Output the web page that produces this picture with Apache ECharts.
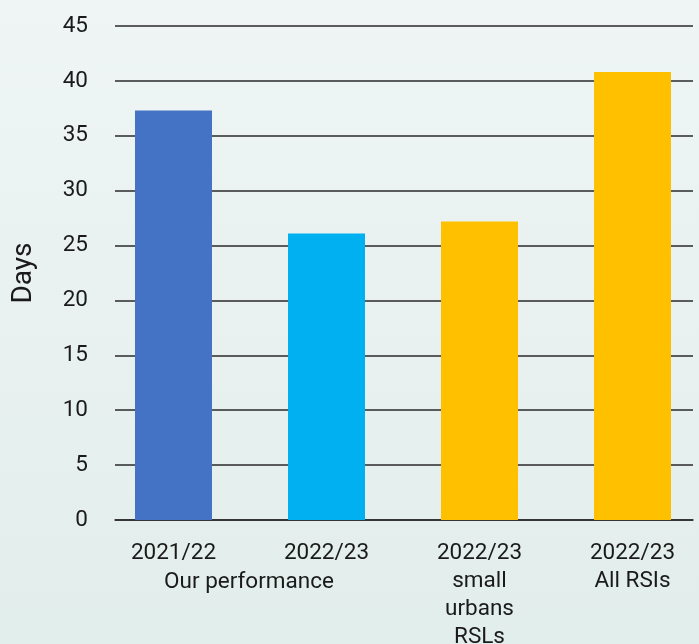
<!DOCTYPE html>
<html>
<head>
<meta charset="utf-8">
<script src="https://cdn.jsdelivr.net/npm/echarts@6/dist/echarts.min.js"></script>
<style>
html,body{margin:0;padding:0;}
#c{width:699px;height:644px;}
</style>
</head>
<body>
<div id="c"></div>
<script>
const categories = ["2021/22", "2022/23", "2022/23\nsmall\nurbans\nRSLs", "2022/23\nAll RSIs"];
const values = [37.3, 26.1, 27.2, 40.8];
const barColors = ["#4472C4", "#00B0F0", "#FFC000", "#FFC000"];
const groupLabel = "Our performance";
const yName = "Days";

const chart = echarts.init(document.getElementById('c'));
const font = 'Roboto, "Noto Sans", sans-serif';
chart.setOption({
  animation: false,
  backgroundColor: {
    type: 'linear', x: 0, y: 0, x2: 0, y2: 1,
    colorStops: [{offset: 0, color: '#eff5f5'}, {offset: 1, color: '#e2eeeb'}]
  },
  grid: [
    {left: 115, width: 578, top: 26, height: 494, outerBoundsMode: 'none', containLabel: false},
    {left: 97, width: 612, top: 26, height: 494, outerBoundsMode: 'none', containLabel: false}
  ],
  xAxis: [
    {gridIndex: 0, type: 'category', data: categories, axisLine: {show: true, lineStyle: {color: '#2a2a2a', width: 1.5}}, axisTick: {show: false}, axisLabel: {show: false}},
    {gridIndex: 1, type: 'category', data: categories, axisLine: {show: false}, axisTick: {show: false},
     axisLabel: {color: '#1a1a1a', fontSize: 22.5, fontFamily: font, lineHeight: 28, margin: 19, interval: 0}}
  ],
  yAxis: [
    {gridIndex: 0, type: 'value', min: 0, max: 45, interval: 5,
     name: yName, nameLocation: 'middle', nameGap: 77, nameTextStyle: {color: '#1a1a1a', fontSize: 28, fontFamily: font},
     axisLine: {show: false}, axisTick: {show: false},
     axisLabel: {color: '#1a1a1a', fontSize: 22.5, fontFamily: font, margin: 27},
     splitLine: {show: true, lineStyle: {color: '#2a2a2a', width: 1.5}}},
    {gridIndex: 1, type: 'value', min: 0, max: 45, interval: 5, show: false, splitLine: {show: false}}
  ],
  series: [{
    type: 'bar', xAxisIndex: 1, yAxisIndex: 1, barWidth: 77,
    data: values.map((v, i) => ({value: v, itemStyle: {color: barColors[i]}}))
  }],
  graphic: [{
    type: 'text', x: 249, y: 582,
    style: {text: groupLabel, textAlign: 'center', textVerticalAlign: 'middle', fill: '#1a1a1a', fontSize: 22.5, fontFamily: font}
  }]
});
</script>
</body>
</html>
